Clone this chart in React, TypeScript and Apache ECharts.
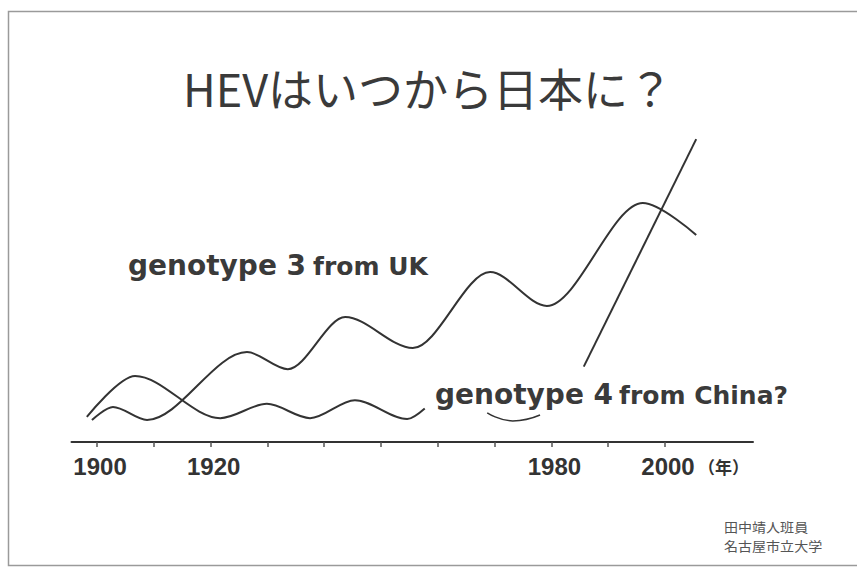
import React, { useEffect, useRef } from "react";
import * as echarts from "echarts";

// Axis ticks / labels (years)
const tickYears = [1900, 1910, 1920, 1930, 1940, 1950, 1960, 1970, 1980, 1990, 2000];
const labelYears = [1900, 1920, 1980, 2000];

// Rising wavy curve (genotype 3 from UK): start, peaks/troughs, end
const riseX = [1899.1, 1902.8, 1908.8, 1926.4, 1933.6, 1943.7, 1955.6, 1969.2, 1979.2, 1996.1, 2005.5];
const riseY = [7.1, 11.3, 7.1, 29.0, 23.5, 40.3, 30.3, 54.8, 43.9, 77.1, 66.8];

// Low flat wavy curve: start, peaks/troughs, end
const flatX = [1898.2, 1906.7, 1921.7, 1929.9, 1937.5, 1945.4, 1954.6, 1957.7];
const flatY = [8.1, 21.3, 7.7, 12.3, 7.7, 13.5, 7.4, 10.8];

// Steep straight line (genotype 4 from China?)
const chinaX = [1985.7, 2005.5];
const chinaY = [24.3, 97.7];

// Hand-drawn underline under "not"
const underlineX = [1968.7, 1973.2, 1978.0];
const underlineY = [9.4, 6.8, 8.7];

const titleText = "HEVはいつから日本に？";
const creditLines = ["田中靖人班員", "名古屋市立大学"];

const zip = (xs: number[], ys: number[]) => xs.map((x, i) => [x, ys[i]]);

const INK = "#333333";

export default function App() {
  const ref = useRef<HTMLDivElement>(null);
  useEffect(() => {
    document.body.style.margin = "0";
    const chart = echarts.init(ref.current!, null, { renderer: "svg" });
    const lineSeries = (data: number[][], width = 2) => ({
      type: "line",
      data,
      smooth: 0.32,
      smoothMonotone: "x",
      symbol: "none",
      lineStyle: { color: INK, width },
      silent: true,
    });
    chart.setOption({
      animation: false,
      backgroundColor: "#ffffff",
      grid: { left: 71.5, right: 104, top: 132, bottom: 127 },
      xAxis: {
        type: "value",
        min: 1895.5,
        max: 2015.5,
        splitLine: { show: false },
        axisLine: { show: true, lineStyle: { color: INK, width: 2 } },
        axisTick: {
          show: true,
          customValues: tickYears,
          length: 5,
          lineStyle: { color: "#555555", width: 1.5 },
        },
        axisLabel: {
          customValues: labelYears,
          formatter: (v: number) => String(v),
          margin: 12,
          padding: [0, 0, 0, 6],
          color: INK,
          fontFamily: "Liberation Sans",
          fontWeight: "bold",
          fontSize: 24,
        },
      },
      yAxis: { type: "value", min: 0, max: 100, show: false },
      series: [
        lineSeries(zip(flatX, flatY)),
        lineSeries(zip(riseX, riseY)),
        { ...lineSeries(zip(chinaX, chinaY)), smooth: false },
        { ...lineSeries(zip(underlineX, underlineY), 1.5), smooth: 0.5, smoothMonotone: undefined },
      ],
      graphic: [
        {
          type: "rect",
          shape: { x: 8.5, y: 11.5, width: 880, height: 554 },
          style: { fill: "none", stroke: "#9a9a9a", lineWidth: 1.5 },
          silent: true,
        },
        {
          type: "text",
          x: 428,
          y: 87,
          style: {
            text: titleText,
            font: 'normal 45px "Noto Sans CJK JP"',
            fill: "#3a3a3a",
            align: "center",
            verticalAlign: "middle",
          },
        },
        {
          type: "text",
          x: 128,
          y: 265,
          style: {
            text: "genotype 3",
            font: 'bold 28px "DejaVu Sans"',
            fill: "#3a3a3a",
            align: "left",
            verticalAlign: "middle",
          },
        },
        {
          type: "text",
          x: 313,
          y: 266,
          style: {
            text: "from UK",
            font: 'bold 25px "DejaVu Sans"',
            fill: "#3a3a3a",
            align: "left",
            verticalAlign: "middle",
          },
        },
        {
          type: "text",
          x: 435,
          y: 394,
          style: {
            text: "genotype 4",
            font: 'bold 28px "DejaVu Sans"',
            fill: "#3a3a3a",
            align: "left",
            verticalAlign: "middle",
          },
        },
        {
          type: "text",
          x: 619,
          y: 395,
          style: {
            text: "from China?",
            font: 'bold 25px "DejaVu Sans"',
            fill: "#3a3a3a",
            align: "left",
            verticalAlign: "middle",
          },
        },
        {
          type: "text",
          x: 698,
          y: 466,
          style: {
            text: "（年）",
            font: 'bold 17px "Noto Sans CJK JP"',
            fill: INK,
            align: "left",
            verticalAlign: "middle",
          },
        },
        {
          type: "text",
          x: 724,
          y: 536,
          scaleX: 1.08,
          style: {
            text: creditLines.join("\n"),
            font: 'normal 13px "Noto Sans CJK JP"',
            lineHeight: 19,
            fill: "#555555",
            align: "left",
            verticalAlign: "middle",
          },
        },
      ],
    });
    return () => chart.dispose();
  }, []);
  return <div ref={ref} style={{ width: 857, height: 569 }} />;
}
